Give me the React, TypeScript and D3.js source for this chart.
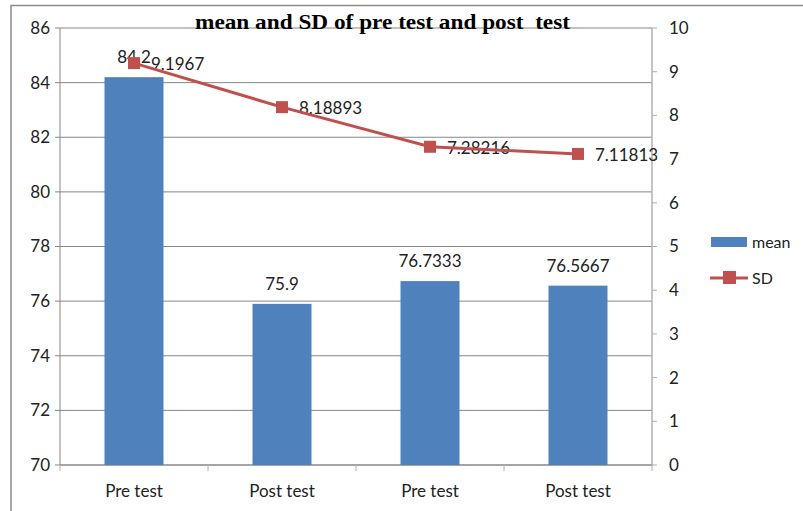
import React, {useEffect, useRef} from 'react'
import * as d3 from 'd3'

const categories = ['Pre test', 'Post test', 'Pre test', 'Post test']
const meanValues = [84.2, 75.9, 76.7333, 76.5667]
const sdValues = [9.1967, 8.18893, 7.28216, 7.11813]
const leftTicks = [70, 72, 74, 76, 78, 80, 82, 84, 86]
const rightTicks = [0, 1, 2, 3, 4, 5, 6, 7, 8, 9, 10]

const W = 803
const H = 511
const BAR = '#4F81BD'
const LINE = '#C0504D'
const FONT = 'Lato, "Open Sans", sans-serif'

export default function App() {
    const svgRef = useRef<SVGSVGElement>(null)

    useEffect(() => {
        const svg = d3.select(svgRef.current)
        svg.selectAll('*').remove()

        const plot = {left: 60, right: 652, top: 28, bottom: 465}

        // outer frame, cut off on the right and bottom like the screenshot
        svg.append('rect')
            .attr('x', 11).attr('y', 5.5)
            .attr('width', W).attr('height', H)
            .attr('fill', 'white')
            .attr('stroke', '#8c8c8c').attr('stroke-width', 1.5)

        const x = d3.scaleBand<number>()
            .domain(categories.map((_, i) => i))
            .range([plot.left, plot.right])
        const yL = d3.scaleLinear().domain([70, 86]).range([plot.bottom, plot.top])
        const yR = d3.scaleLinear().domain([0, 10]).range([plot.bottom, plot.top])
        const cx = (i: number) => x(i)! + x.bandwidth() / 2

        // gridlines
        svg.append('g')
            .selectAll('line')
            .data(leftTicks)
            .join('line')
            .attr('x1', plot.left).attr('x2', plot.right)
            .attr('y1', d => yL(d)).attr('y2', d => yL(d))
            .attr('stroke', '#868686').attr('stroke-width', 1)

        // left axis
        const gl = svg.append('g')
        gl.append('line')
            .attr('x1', plot.left).attr('x2', plot.left)
            .attr('y1', plot.top).attr('y2', plot.bottom)
            .attr('stroke', '#868686')
        gl.selectAll('line.t').data(leftTicks).join('line').attr('class', 't')
            .attr('x1', plot.left - 5).attr('x2', plot.left)
            .attr('y1', d => yL(d)).attr('y2', d => yL(d))
            .attr('stroke', '#868686')
        gl.selectAll('text').data(leftTicks).join('text')
            .attr('x', plot.left - 10).attr('y', d => yL(d))
            .attr('dy', '0.35em').attr('text-anchor', 'end')
            .attr('font-family', FONT).attr('font-size', 17).attr('fill', '#222')
            .text(d => d)

        // right axis
        const gr = svg.append('g')
        gr.append('line')
            .attr('x1', plot.right).attr('x2', plot.right)
            .attr('y1', plot.top).attr('y2', plot.bottom)
            .attr('stroke', '#b0b0b0').attr('stroke-width', 1.5)
        gr.selectAll('line.t').data(rightTicks).join('line').attr('class', 't')
            .attr('x1', plot.right).attr('x2', plot.right + 5)
            .attr('y1', d => yR(d)).attr('y2', d => yR(d))
            .attr('stroke', '#b0b0b0')
        gr.selectAll('text').data(rightTicks).join('text')
            .attr('x', plot.right + 17).attr('y', d => yR(d))
            .attr('dy', '0.35em').attr('text-anchor', 'start')
            .attr('font-family', FONT).attr('font-size', 17).attr('fill', '#222')
            .text(d => d)

        // bottom axis
        const gb = svg.append('g')
        gb.append('line')
            .attr('x1', plot.left).attr('x2', plot.right)
            .attr('y1', plot.bottom).attr('y2', plot.bottom)
            .attr('stroke', '#868686')
        const edges = [...categories.map((_, i) => x(i)!), plot.right]
        gb.selectAll('line.t').data(edges).join('line').attr('class', 't')
            .attr('x1', d => d).attr('x2', d => d)
            .attr('y1', plot.bottom).attr('y2', plot.bottom + 6)
            .attr('stroke', '#b0b0b0')
        gb.selectAll('text').data(categories).join('text')
            .attr('x', (_, i) => cx(i)).attr('y', plot.bottom + 32)
            .attr('text-anchor', 'middle')
            .attr('font-family', FONT).attr('font-size', 17).attr('fill', '#222')
            .text(d => d)

        // bars
        const bw = 59
        svg.append('g').selectAll('rect').data(meanValues).join('rect')
            .attr('x', (_, i) => cx(i) - bw / 2)
            .attr('width', bw)
            .attr('y', d => yL(d))
            .attr('height', d => plot.bottom - yL(d))
            .attr('fill', BAR)

        // mean labels
        svg.append('g').selectAll('text').data(meanValues).join('text')
            .attr('x', (_, i) => cx(i)).attr('y', d => yL(d) - 14)
            .attr('text-anchor', 'middle')
            .attr('font-family', FONT).attr('font-size', 17).attr('fill', '#222')
            .text(d => d)

        // SD labels
        svg.append('g').selectAll('text').data(sdValues).join('text')
            .attr('x', (_, i) => cx(i) + 17).attr('y', d => yR(d) + 1)
            .attr('dy', '0.35em')
            .attr('font-family', FONT).attr('font-size', 17).attr('fill', '#222')
            .text(d => d)

        // SD line (drawn over the labels, as in the original)
        const line = d3.line<number>().x((_, i) => cx(i)).y(d => yR(d))
        svg.append('path')
            .datum(sdValues)
            .attr('d', line)
            .attr('fill', 'none').attr('stroke', LINE).attr('stroke-width', 3)
        svg.append('g').selectAll('rect').data(sdValues).join('rect')
            .attr('x', (_, i) => cx(i) - 6).attr('y', d => yR(d) - 6)
            .attr('width', 12).attr('height', 12)
            .attr('fill', LINE)

        // title
        svg.append('text')
            .attr('x', 195).attr('y', 29)
            .attr('font-family', '"Liberation Serif", "Times New Roman", serif')
            .attr('font-weight', 'bold').attr('font-size', 21)
            .attr('fill', '#000')
            .attr('textLength', 375)
            .attr('lengthAdjust', 'spacingAndGlyphs')
            .style('white-space', 'pre')
            .text('mean and SD of pre test and post  test')

        // legend
        const lg = svg.append('g')
        lg.append('rect').attr('x', 711).attr('y', 237).attr('width', 36).attr('height', 10).attr('fill', BAR)
        lg.append('text').attr('x', 752).attr('y', 242).attr('dy', '0.35em')
            .attr('font-family', FONT).attr('font-size', 16).attr('fill', '#222').text('mean')
        lg.append('line').attr('x1', 710).attr('x2', 748).attr('y1', 278).attr('y2', 278)
            .attr('stroke', LINE).attr('stroke-width', 3)
        lg.append('rect').attr('x', 723).attr('y', 271).attr('width', 13).attr('height', 13).attr('fill', LINE)
        lg.append('text').attr('x', 752).attr('y', 278).attr('dy', '0.35em')
            .attr('font-family', FONT).attr('font-size', 16).attr('fill', '#222').text('SD')
    }, [])

    return (
        <svg ref={svgRef} width={W} height={H}
             style={{position: 'absolute', left: 0, top: 0, display: 'block', background: 'white'}}/>
    )
}
